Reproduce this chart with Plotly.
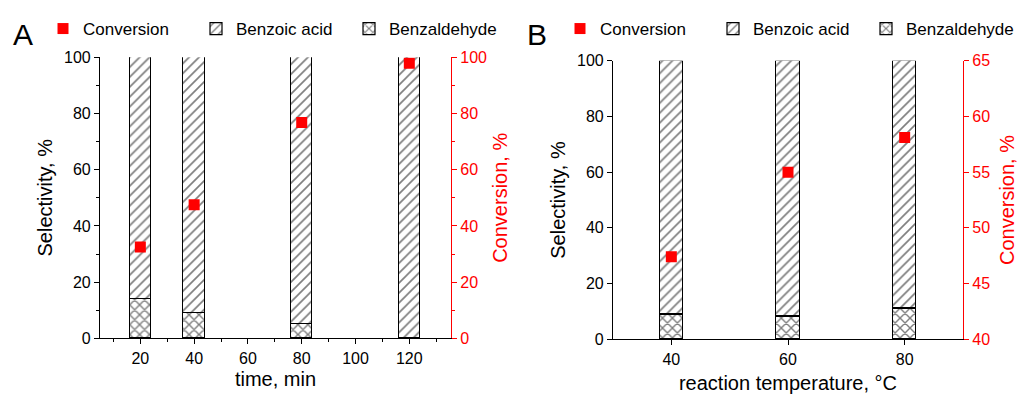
import plotly.graph_objects as go

# Panel A: time
time_min = [20, 40, 80, 120]
a_benzaldehyde = [14, 9, 5, 0]
a_benzoic = [86, 91, 95, 100]
a_conversion = [32.5, 47.5, 76.8, 97.9]

# Panel B: temperature
temp_c = [40, 60, 80]
b_benzaldehyde = [9, 8, 11]
b_benzoic = [91, 92, 89]
b_conversion = [47.4, 55.0, 58.1]

FONT = "Liberation Sans, Arial, sans-serif"
RED = "#ff0000"
W, H = 1021, 394

fig = go.Figure()

def bar_pattern(shape, size, sol):
    return dict(shape=shape, fgcolor="black", bgcolor="white", size=size, solidity=sol, fillmode="overlay")

PAT_ACID = bar_pattern("/", 7, 0.24)
PAT_ALD = bar_pattern("x", 7, 0.36)
OUTLINE = dict(color="black", width=1.2)

# Panel A traces
fig.add_trace(go.Scatter(x=time_min, y=a_conversion, mode="markers", name="Conversion",
                         marker=dict(symbol="square", size=11, color=RED),
                         xaxis="x", yaxis="y2", legend="legend", legendrank=1))
fig.add_trace(go.Bar(x=time_min, y=a_benzaldehyde, name="Benzaldehyde", width=8,
                     marker=dict(color="white", line=OUTLINE, pattern=PAT_ALD),
                     xaxis="x", yaxis="y", legend="legend", legendrank=3))
fig.add_trace(go.Bar(x=time_min, y=a_benzoic, name="Benzoic acid", width=8,
                     marker=dict(color="white", line=OUTLINE, pattern=PAT_ACID),
                     xaxis="x", yaxis="y", legend="legend", legendrank=2))

# Panel B traces
fig.add_trace(go.Scatter(x=temp_c, y=b_conversion, mode="markers", name="Conversion",
                         marker=dict(symbol="square", size=11, color=RED),
                         xaxis="x2", yaxis="y4", legend="legend2", legendrank=1))
fig.add_trace(go.Bar(x=temp_c, y=b_benzaldehyde, name="Benzaldehyde", width=4,
                     marker=dict(color="white", line=OUTLINE, pattern=PAT_ALD),
                     xaxis="x2", yaxis="y3", legend="legend2", legendrank=3))
fig.add_trace(go.Bar(x=temp_c, y=b_benzoic, name="Benzoic acid", width=4,
                     marker=dict(color="white", line=OUTLINE, pattern=PAT_ACID),
                     xaxis="x2", yaxis="y3", legend="legend2", legendrank=2))

tickfont = dict(family=FONT, size=16, color="black")
titlefont = dict(family=FONT, size=20, color="black")
redtick = dict(family=FONT, size=16, color=RED)
redtitle = dict(family=FONT, size=20, color=RED)

dA = [100 / W, 451 / W]
dB = [613 / W, 963 / W]
yA = [1 - 338.3 / H, 1 - 57.3 / H]
yB = [1 - 339.3 / H, 1 - 60.7 / H]

common_x = dict(showline=True, linecolor="black", linewidth=1.2, ticks="outside", ticklen=5,
                tickcolor="black", showgrid=False, zeroline=False, tickfont=tickfont,
                title_font=titlefont, automargin=False)

legend_common = dict(orientation="h", yanchor="middle", y=1 - 29 / H,
                     font=dict(family=FONT, size=17, color="black"), bgcolor="rgba(0,0,0,0)",
                     traceorder="normal", itemwidth=30, entrywidth=108, entrywidthmode="pixels",
                     xanchor="left")

fig.update_layout(
    width=W, height=H, margin=dict(l=0, r=0, t=0, b=0, autoexpand=False),
    paper_bgcolor="white", plot_bgcolor="white",
    barmode="stack", bargap=0,
    xaxis=dict(common_x, domain=dA, anchor="y", range=[5, 135.5], tickvals=[20, 40, 60, 80, 100, 120],
               minor=dict(tickvals=[10, 30, 50, 70, 90, 110, 130], ticks="outside", ticklen=3, tickcolor="black"),
               title=dict(text="time, min", standoff=6)),
    yaxis=dict(common_x, domain=yA, anchor="x", range=[0, 100], tickvals=[0, 20, 40, 60, 80, 100],
               minor=dict(tickvals=[10, 30, 50, 70, 90], ticks="outside", ticklen=3, tickcolor="black"),
               title=dict(text="Selectivity, %", standoff=5)),
    yaxis2=dict(domain=yA, anchor="x", overlaying="y", side="right", range=[0, 100],
                tickvals=[0, 20, 40, 60, 80, 100], showline=True, linecolor=RED, linewidth=1.2,
                ticks="outside", ticklen=5, tickcolor=RED, showgrid=False, zeroline=False,
                minor=dict(tickvals=[10, 30, 50, 70, 90], ticks="outside", ticklen=3, tickcolor=RED),
                tickfont=redtick, title=dict(text="Conversion, %", font=redtitle, standoff=6), automargin=False),
    xaxis2=dict(common_x, domain=dB, anchor="y3", range=[30, 90], tickvals=[40, 60, 80],
                title=dict(text="reaction temperature, °C", standoff=12)),
    yaxis3=dict(common_x, domain=yB, anchor="x2", range=[0, 100], tickvals=[0, 20, 40, 60, 80, 100],
                title=dict(text="Selectivity, %", standoff=5)),
    yaxis4=dict(domain=yB, anchor="x2", overlaying="y3", side="right", range=[40, 65],
                tickvals=[40, 45, 50, 55, 60, 65], showline=True, linecolor=RED, linewidth=1.2,
                ticks="outside", ticklen=5, tickcolor=RED, showgrid=False, zeroline=False,
                tickfont=redtick, title=dict(text="Conversion, %", font=redtitle, standoff=10), automargin=False),
    legend=dict(legend_common, x=43 / W),
    legend2=dict(legend_common, x=560 / W),
    annotations=[
        dict(text="A", x=23 / W, y=1 - 34 / H, xref="paper", yref="paper", showarrow=False,
             xanchor="center", yanchor="middle", font=dict(family=FONT, size=30, color="black")),
        dict(text="B", x=537 / W, y=1 - 34 / H, xref="paper", yref="paper", showarrow=False,
             xanchor="center", yanchor="middle", font=dict(family=FONT, size=30, color="black")),
    ],
)

fig.write_html("out.html", config={"displayModeBar": False},
               post_script="document.body.style.margin='0';document.body.style.padding='0';document.body.style.overflow='hidden';")
